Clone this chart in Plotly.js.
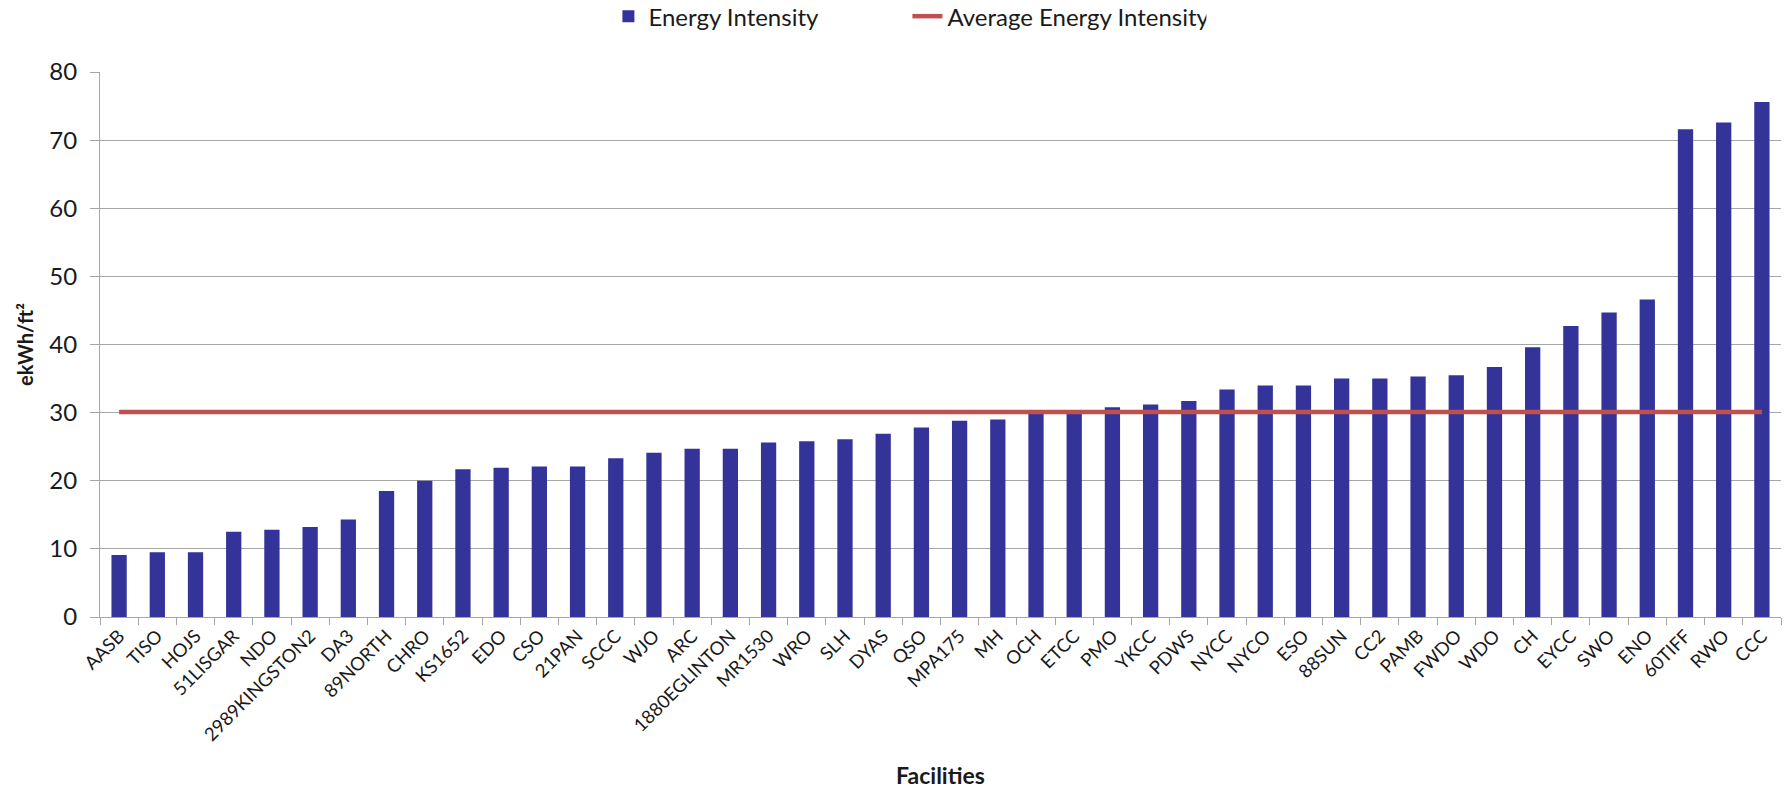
<!DOCTYPE html>
<html>
<head>
<meta charset="utf-8">
<script src="https://cdn.plot.ly/plotly-3.0.1.min.js"></script>
<style>
  html, body { margin: 0; padding: 0; background: #ffffff; }
  #chart { width: 1788px; height: 789px; }
</style>
</head>
<body>
<div id="chart"></div>
<script>
// Facilities (x categories)
const facilities = [
  "AASB", "TISO", "HOJS", "51LISGAR", "NDO", "2989KINGSTON2", "DA3", "89NORTH",
  "CHRO", "KS1652", "EDO", "CSO", "21PAN", "SCCC", "WJO", "ARC", "1880EGLINTON",
  "MR1530", "WRO", "SLH", "DYAS", "QSO", "MPA175", "MH", "OCH", "ETCC", "PMO",
  "YKCC", "PDWS", "NYCC", "NYCO", "ESO", "88SUN", "CC2", "PAMB", "FWDO", "WDO",
  "CH", "EYCC", "SWO", "ENO", "60TIFF", "RWO", "CCC"
];

// Energy intensity per facility (ekWh/ft²)
const energyIntensity = [
  9.1, 9.5, 9.5, 12.5, 12.8, 13.2, 14.3, 18.5,
  20.0, 21.7, 21.9, 22.1, 22.1, 23.3, 24.1, 24.7, 24.7,
  25.6, 25.8, 26.1, 26.9, 27.8, 28.8, 29.0, 30.2, 30.2, 30.8,
  31.2, 31.7, 33.4, 34.0, 34.0, 35.0, 35.0, 35.3, 35.5, 36.7,
  39.6, 42.7, 44.7, 46.6, 71.6, 72.6, 75.6
];

// Average energy intensity (ekWh/ft²)
const averageIntensity = 30.1;

// Y axis ticks
const yTickValues = [0, 10, 20, 30, 40, 50, 60, 70, 80];

const avgX = [facilities[0], facilities[facilities.length - 1]];
const avgY = [averageIntensity, averageIntensity];

const gridGray = "#a6a6a6";
const textColor = "#1a1a1a";

const traces = [
  {
    type: "bar",
    name: "Energy Intensity",
    x: facilities,
    y: energyIntensity,
    marker: { color: "#333399" },
    hoverinfo: "x+y"
  },
  {
    type: "scatter",
    mode: "lines",
    name: "Average Energy Intensity",
    x: avgX,
    y: avgY,
    line: { color: "#c0504d", width: 4.5 },
    hoverinfo: "y"
  }
];

const layout = {
  width: 1788,
  height: 789,
  margin: { l: 100, r: 7, t: 72, b: 172, pad: 0, autoexpand: false },
  paper_bgcolor: "#ffffff",
  plot_bgcolor: "#ffffff",
  font: { family: "Lato, 'Open Sans', sans-serif", color: textColor },
  bargap: 0.6,
  showlegend: true,
  legend: {
    orientation: "h",
    xref: "container",
    yref: "container",
    x: 0.5075,
    xanchor: "center",
    y: 0.979,
    yanchor: "middle",
    font: { size: 24, color: textColor, family: "Lato, sans-serif" },
    itemwidth: 30,
    entrywidth: 254,
    entrywidthmode: "pixels",
    traceorder: "normal"
  },
  xaxis: {
    type: "category",
    tickangle: -45,
    tickfont: { size: 18.5, color: textColor, family: "Lato, sans-serif" },
    ticks: "outside",
    tickson: "boundaries",
    ticklen: 7,
    tickcolor: gridGray,
    showline: true,
    linecolor: gridGray,
    linewidth: 1,
    showgrid: false,
    automargin: false,
    title: {
      text: "Facilities",
      font: { size: 23, color: textColor, family: "Lato, sans-serif", weight: "bold" },
      standoff: 30
    }
  },
  yaxis: {
    range: [0, 80],
    tickvals: yTickValues,
    ticktext: yTickValues.map(String),
    tickfont: { size: 24, color: textColor, family: "Lato, sans-serif" },
    ticks: "outside",
    ticklen: 9,
    tickcolor: gridGray,
    ticklabelstandoff: 8,
    showline: true,
    linecolor: gridGray,
    linewidth: 1,
    showgrid: true,
    gridcolor: gridGray,
    gridwidth: 1,
    zeroline: false,
    automargin: false,
    title: {
      text: "ekWh/ft²",
      font: { size: 20, color: textColor, family: "Lato, sans-serif", weight: "bold" },
      standoff: 10
    }
  }
};

Plotly.newPlot("chart", traces, layout, { displayModeBar: false, responsive: false, staticPlot: true });
</script>
</body>
</html>
